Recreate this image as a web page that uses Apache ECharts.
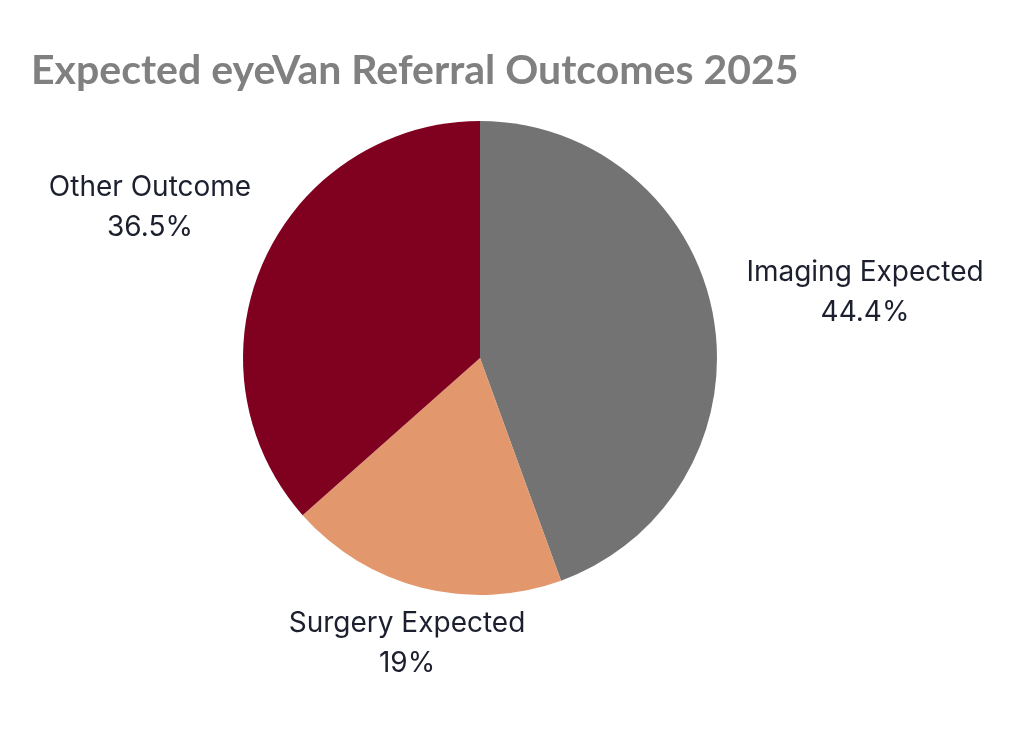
<!DOCTYPE html>
<html>
<head>
<meta charset="utf-8">
<script src="https://cdn.jsdelivr.net/npm/echarts@6/dist/echarts.min.js"></script>
<style>
html,body{margin:0;padding:0;background:#fff;}
#chart{width:1023px;height:747px;}
</style>
</head>
<body>
<div id="chart"></div>
<script>
const categories = ["Imaging Expected", "Surgery Expected", "Other Outcome"];
const values = [44.4, 19, 36.5];
const colors = ["#737373", "#E2986C", "#800020"];
// label anchor centres (layout only)
const labelCenters = [[865, 293], [407, 644], [150, 208]];

const chart = echarts.init(document.getElementById('chart'), null, {renderer: 'canvas'});
chart.setOption({
  animation: false,
  title: {
    text: "Expected eyeVan Referral Outcomes 2025",
    left: 26, top: 45,
    textStyle: {fontFamily: "Lato", fontWeight: "bold", fontSize: 41, color: "#808080"}
  },
  series: [{
    type: 'pie',
    center: [480, 358],
    radius: 237,
    startAngle: 90,
    clockwise: true,
    data: categories.map((c, i) => ({name: c, value: values[i], itemStyle: {color: colors[i]}})),
    label: {
      show: true,
      position: 'outside',
      formatter: p => p.name + "\n" + p.value + "%",
      fontFamily: "Inter",
      fontSize: 28,
      lineHeight: 40,
      color: "#1b1f2e"
    },
    labelLine: {show: false, length: 30, length2: 0},
    labelLayout: function (params) {
      const c = labelCenters[params.dataIndex];
      return {x: c[0], y: c[1], align: 'center', verticalAlign: 'middle'};
    }
  }]
});
</script>
</body>
</html>
